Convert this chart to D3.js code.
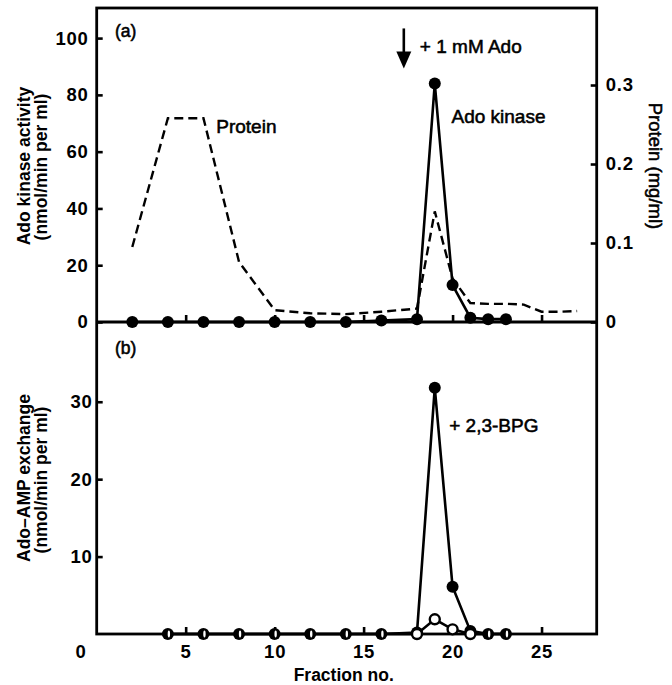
<!DOCTYPE html>
<html>
<head>
<meta charset="utf-8">
<script src="https://cdn.jsdelivr.net/npm/d3@7/dist/d3.min.js"></script>
<style>
  html, body { margin: 0; padding: 0; background: #fff; }
  svg { display: block; }
  text { font-family: "Liberation Sans", Arial, Helvetica, sans-serif; fill: #000; }
</style>
</head>
<body>
<svg id="chart" width="672" height="685"></svg>
<script>
// ---------- data ----------
// (a) Ado kinase activity (nmol/min per ml), filled circles
const kinaseFractions = [2, 4, 6, 8, 10, 12, 14, 16, 18, 19, 20, 21, 22, 23];
const kinaseValues    = [0, 0, 0, 0, 0, 0, 0, 0.5, 1, 84, 13, 1.5, 1, 1];

// (a) Protein (mg/ml), dashed line, right axis
const proteinFractions = [2, 4, 6, 8, 10, 12, 14, 16, 18, 19, 20, 21, 22, 23, 24, 25, 26, 27];
const proteinValues    = [0.095, 0.258, 0.258, 0.076, 0.015, 0.011, 0.010, 0.013, 0.017, 0.14, 0.055, 0.024, 0.023, 0.023, 0.022, 0.013, 0.013, 0.014];

// (b) Ado-AMP exchange (nmol/min per ml)
const exchangeFractions = [4, 6, 8, 10, 12, 14, 16, 18, 19, 20, 21, 22, 23];
const exchangeBPG       = [0, 0, 0, 0, 0, 0, 0, 0.2, 31.8, 6.1, 0.4, 0, 0];   // filled, + 2,3-BPG
const exchangeControl   = [0, 0, 0, 0, 0, 0, 0, 0, 1.9, 0.6, 0, 0, 0];      // open

// tick values
const xTicks = [5, 10, 15, 20, 25];
const kinaseTicks = [0, 20, 40, 60, 80, 100];
const proteinTicks = [0, 0.1, 0.2, 0.3];
const exchangeTicks = [10, 20, 30];

// arrow marking "+ 1 mM Ado" (fraction, kinase-axis range)
const arrowFraction = 17.26;
const arrowRange = [103.4, 89.3];

// ---------- layout ----------
const svg = d3.select("#chart");
const X0 = 96.7, X1 = 596.7, YT = 8, YM = 322, YB = 634;

const x = d3.scaleLinear().domain([0, 28.1]).range([X0, X1]);
const yKin = d3.scaleLinear().domain([0, 110.6]).range([YM, YT]);
const yProt = d3.scaleLinear().domain([0, 0.3975]).range([YM, YT]);
const yEx = d3.scaleLinear().domain([0, 40.3]).range([YB, YM]);

const FONT = "Liberation Sans, Arial, sans-serif";
const tickFont = 18.5;
const stroke = 2.6;

function styleAxis(g) {
  g.select(".domain").remove();
  g.selectAll(".tick line").attr("stroke", "#000").attr("stroke-width", stroke);
  g.selectAll(".tick text").attr("font-size", tickFont).attr("font-weight", "bold")
    .attr("letter-spacing", 0.8).attr("font-family", FONT).attr("fill", "#000");
}

// top panel left axis
svg.append("g").attr("transform", `translate(${X0},0)`)
  .call(d3.axisLeft(yKin).tickValues(kinaseTicks).tickSizeInner(-6).tickSizeOuter(0).tickPadding(8).tickFormat(d3.format("d")))
  .call(styleAxis);

// top panel right axis
svg.append("g").attr("transform", `translate(${X1},0)`)
  .call(d3.axisRight(yProt).tickValues(proteinTicks).tickSizeInner(-6).tickSizeOuter(0).tickPadding(9).tickFormat(d => d === 0 ? "0" : d3.format(".1f")(d)))
  .call(styleAxis);

// top panel x ticks (no labels)
svg.append("g").attr("transform", `translate(0,${YM})`)
  .call(d3.axisBottom(x).tickValues(xTicks).tickSizeInner(-7).tickSizeOuter(0).tickFormat(""))
  .call(styleAxis);

// bottom panel left axis
svg.append("g").attr("transform", `translate(${X0},0)`)
  .call(d3.axisLeft(yEx).tickValues(exchangeTicks).tickSizeInner(-6).tickSizeOuter(0).tickPadding(4).tickFormat(d3.format("d")))
  .call(styleAxis);

// bottom x axis
svg.append("g").attr("transform", `translate(0,${YB})`)
  .call(d3.axisBottom(x).tickValues(xTicks).tickSizeInner(-7).tickSizeOuter(0).tickPadding(11).tickFormat(d3.format("d")))
  .call(styleAxis);

// corner zero label
svg.append("text").attr("x", x(0) - 16).attr("y", yEx(0) + 24)
  .attr("text-anchor", "middle").attr("font-size", tickFont).attr("font-weight", "bold").text("0");

// frame
svg.append("rect").attr("x", X0).attr("y", YT).attr("width", X1 - X0).attr("height", YB - YT)
  .attr("fill", "none").attr("stroke", "#000").attr("stroke-width", 2.8);
svg.append("line").attr("x1", X0).attr("x2", X1).attr("y1", YM).attr("y2", YM)
  .attr("stroke", "#000").attr("stroke-width", 2.8);

// ---------- top panel marks ----------
const protPts = proteinFractions.map((f, i) => [f, proteinValues[i]]);
svg.append("path").datum(protPts)
  .attr("d", d3.line().x(d => x(d[0])).y(d => yProt(d[1])))
  .attr("fill", "none").attr("stroke", "#000").attr("stroke-width", 2.4)
  .attr("stroke-dasharray", "9,5");

const kinPts = kinaseFractions.map((f, i) => [f, kinaseValues[i]]);
svg.append("path").datum(kinPts)
  .attr("d", d3.line().x(d => x(d[0])).y(d => yKin(d[1])))
  .attr("fill", "none").attr("stroke", "#000").attr("stroke-width", 2.6);
svg.append("g").selectAll("circle").data(kinPts).join("circle")
  .attr("cx", d => x(d[0])).attr("cy", d => yKin(d[1])).attr("r", 6).attr("fill", "#000");

// ---------- bottom panel marks ----------
const bpgPts = exchangeFractions.map((f, i) => [f, exchangeBPG[i]]);
const ctlPts = exchangeFractions.map((f, i) => [f, exchangeControl[i]]);
const exLine = d3.line().x(d => x(d[0])).y(d => yEx(d[1]));
svg.append("path").datum(bpgPts).attr("d", exLine)
  .attr("fill", "none").attr("stroke", "#000").attr("stroke-width", 2.6);
svg.append("path").datum(ctlPts).attr("d", exLine)
  .attr("fill", "none").attr("stroke", "#000").attr("stroke-width", 2.6);
svg.append("g").selectAll("circle").data(bpgPts).join("circle")
  .attr("cx", d => x(d[0])).attr("cy", d => yEx(d[1])).attr("r", 6).attr("fill", "#000");
const same = ctlPts.map((d, i) => Math.abs(d[1] - bpgPts[i][1]) < 1e-6);
svg.append("g").selectAll("circle").data(ctlPts.filter((d, i) => !same[i])).join("circle")
  .attr("cx", d => x(d[0])).attr("cy", d => yEx(d[1])).attr("r", 5)
  .attr("fill", "#fff").attr("stroke", "#000").attr("stroke-width", 2.4);
svg.append("g").selectAll("ellipse").data(ctlPts.filter((d, i) => same[i])).join("ellipse")
  .attr("cx", d => x(d[0]) + 1).attr("cy", d => yEx(d[1])).attr("rx", 1.2).attr("ry", 3.4)
  .attr("fill", "#fff");

// ---------- text ----------
function label(txt, px, py, opts = {}) {
  const t = svg.append("text").attr("x", px).attr("y", py)
    .attr("font-size", opts.size || 17.5).attr("font-weight", opts.weight || "bold")
    .attr("text-anchor", opts.anchor || "start").text(txt);
  if (opts.medium) t.attr("stroke", "#000").attr("stroke-width", 0.55);
  if (opts.rotate) t.attr("transform", `rotate(${opts.rotate},${px},${py})`);
  return t;
}
label("(a)", 115, 37, { weight: "normal", size: 17.5, medium: true });
label("(b)", 115, 354, { weight: "normal", size: 17.5, medium: true });
label("Protein", x(6.72), yKin(66.4), { weight: "normal", size: 19, medium: true });
label("Ado kinase", x(19.94), yKin(70), { weight: "normal", size: 19, medium: true });
label("+ 1 mM Ado", x(18.16), yKin(94.9), { weight: "normal", size: 19, medium: true });
label("+ 2,3-BPG", x(19.81), yEx(26.1), { weight: "normal", size: 19, medium: true });

// arrow
const ax = x(arrowFraction), ay0 = yKin(arrowRange[0]), ay1 = yKin(arrowRange[1]);
svg.append("line").attr("x1", ax).attr("x2", ax).attr("y1", ay0).attr("y2", ay1 - 8)
  .attr("stroke", "#000").attr("stroke-width", 2.6);
svg.append("path").attr("d", `M${ax - 7.5},${ay1 - 17} L${ax + 7.5},${ay1 - 17} L${ax},${ay1} Z`).attr("fill", "#000");

// axis titles
label("Ado kinase activity", 29.5, 166, { anchor: "middle", rotate: -90 });
label("(nmol/min per ml)", 46.5, 167, { anchor: "middle", rotate: -90 });
label("Ado\u2013AMP exchange", 29.5, 478, { anchor: "middle", rotate: -90 });
label("(nmol/min per ml)", 46.5, 480, { anchor: "middle", rotate: -90 });
label("Protein (mg/ml)", 649, 166, { anchor: "middle", rotate: 90, weight: "normal", size: 18.5, medium: true });
label("Fraction no.", (X0 + X1) / 2 - 3, 681, { anchor: "middle" });
</script>
</body>
</html>
